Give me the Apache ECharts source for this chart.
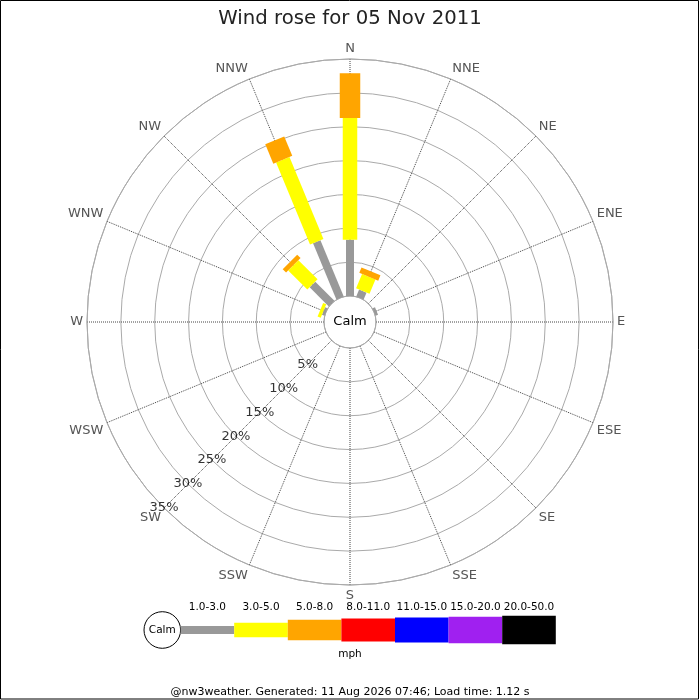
<!DOCTYPE html>
<html>
<head>
<meta charset="utf-8">
<title>Wind rose</title>
<script src="https://cdn.jsdelivr.net/npm/echarts@6/dist/echarts.min.js"></script>
<style>
  html, body { margin: 0; padding: 0; background: #fff; }
  #chart { width: 700px; height: 700px; }
</style>
</head>
<body>
<div id="chart"></div>
<script>
"use strict";
// compass points, clockwise from north
var directions = ["N", "NNE", "NE", "ENE", "E", "ESE", "SE", "SSE",
                  "S", "SSW", "SW", "WSW", "W", "WNW", "NW", "NNW"];
var speedBands = ["1.0-3.0", "3.0-5.0", "5.0-8.0", "8.0-11.0", "11.0-15.0", "15.0-20.0", "20.0-50.0"];
var speedUnit = "mph";
var radiusTicks = [5, 10, 15, 20, 25, 30, 35];

// % of time per direction for each speed band
var band1 = [8.3, 1.1, 0, 0.4, 0, 0, 0, 0, 0, 0, 0, 0, 0, 0.4, 4.0, 9.0];
var band2 = [18.0, 2.3, 0, 0, 0, 0, 0, 0, 0, 0, 0, 0, 0, 0.5, 4.0, 13.1];
var band3 = [6.6, 0.85, 0, 0, 0, 0, 0, 0, 0, 0, 0, 0, 0, 0, 0.7, 3.1];
var band4 = [0, 0, 0, 0, 0, 0, 0, 0, 0, 0, 0, 0, 0, 0, 0, 0];
var band5 = [0, 0, 0, 0, 0, 0, 0, 0, 0, 0, 0, 0, 0, 0, 0, 0];
var band6 = [0, 0, 0, 0, 0, 0, 0, 0, 0, 0, 0, 0, 0, 0, 0, 0];
var band7 = [0, 0, 0, 0, 0, 0, 0, 0, 0, 0, 0, 0, 0, 0, 0, 0];
var bands = [band1, band2, band3, band4, band5, band6, band7];

var bandColors = ["#999999", "#ffff00", "#ffa500", "#ff0000", "#0000ff", "#a020f0", "#000000"];
var bandWidths = [8, 14.5, 20.5, 23, 25, 26.5, 28.5];

var FONT = "DejaVu Sans";
var CX = 350, CY = 322;

// stacked segments: [start, end, angle, band]
var segments = [];
for (var d = 0; d < directions.length; d++) {
    var cum = 0;
    for (var b = 0; b < bands.length; b++) {
        var v = bands[b][d];
        if (v > 0) {
            segments.push([cum, cum + v, d * 22.5, b]);
            cum += v;
        }
    }
}

function renderBar(params, api) {
    var p0 = api.coord([api.value(0), api.value(2)]);
    var p1 = api.coord([api.value(1), api.value(2)]);
    var b = api.value(3);
    var dx = p1[0] - p0[0], dy = p1[1] - p0[1];
    var len = Math.sqrt(dx * dx + dy * dy) || 1;
    var h = bandWidths[b] / 2;
    var nx = -dy / len * h, ny = dx / len * h;
    return {
        type: "polygon",
        shape: { points: [
            [p0[0] + nx, p0[1] + ny], [p1[0] + nx, p1[1] + ny],
            [p1[0] - nx, p1[1] - ny], [p0[0] - nx, p0[1] - ny]
        ] },
        style: { fill: bandColors[b] }
    };
}

var labelData = radiusTicks.map(function (t) { return [t, 225]; });

// legend strip under the rose
var graphics = [
    { type: "rect", shape: { x: 0.5, y: 0.5, width: 698, height: 698.5 },
      style: { fill: null, stroke: "#000", lineWidth: 1 }, silent: true },
    { type: "text", x: CX, y: CY, z: 10,
      style: { text: "Calm", font: "13px '" + FONT + "'", fill: "#000", align: "center", verticalAlign: "middle" } },
    { type: "circle", shape: { cx: 162.3, cy: 630, r: 18.3 },
      style: { fill: "#fff", stroke: "#000", lineWidth: 1 } },
    { type: "text", x: 162.3, y: 630,
      style: { text: "Calm", font: "10.5px '" + FONT + "'", fill: "#000", align: "center", verticalAlign: "middle" } },
    { type: "text", x: 350, y: 654,
      style: { text: speedUnit, font: "10.5px '" + FONT + "'", fill: "#000", align: "center", verticalAlign: "middle" } },
    { type: "text", x: 350, y: 692.5,
      style: { text: "@nw3weather. Generated: 11 Aug 2026 07:46; Load time: 1.12 s",
               font: "11px '" + FONT + "'", fill: "#000", align: "center", verticalAlign: "middle" } }
];
var legX = 180.6, legW = 53.6;
speedBands.forEach(function (name, i) {
    var x = legX + i * legW;
    graphics.push({ type: "rect", shape: { x: x, y: 630 - bandWidths[i] / 2, width: legW, height: bandWidths[i] },
                    style: { fill: bandColors[i] } });
    graphics.push({ type: "text", x: x + legW / 2, y: 607,
                    style: { text: name, font: "10.5px '" + FONT + "'", fill: "#000", align: "center", verticalAlign: "middle" } });
});

var myChart = echarts.init(document.getElementById("chart"));
myChart.setOption({
    animation: false,
    backgroundColor: "#fff",
    textStyle: { fontFamily: FONT },
    title: {
        text: "Wind rose for 05 Nov 2011",
        left: "center", top: 4,
        textStyle: { fontFamily: FONT, fontSize: 19.7, fontWeight: "normal", color: "#222" }
    },
    polar: { center: [CX, CY], radius: [26, 263] },
    angleAxis: {
        type: "value", min: 0, max: 360, interval: 22.5,
        startAngle: 90, clockwise: true,
        axisLine: { show: true, lineStyle: { color: "#aaa", width: 1 } },
        axisTick: { show: false },
        axisLabel: {
            margin: 4, color: "#555", fontSize: 13, fontFamily: FONT,
            formatter: function (v) { return directions[Math.round(v / 22.5) % 16]; }
        },
        splitLine: { show: true, lineStyle: { color: "#444", width: 1, type: "dotted" } }
    },
    radiusAxis: {
        type: "value", min: 0, max: 35, interval: 5,
        axisLine: { show: false },
        axisTick: { show: false },
        axisLabel: { show: false },
        splitLine: { show: true, lineStyle: { color: "#aaa", width: 1, type: "solid" } }
    },
    series: [
        {
            type: "custom", coordinateSystem: "polar",
            renderItem: renderBar,
            encode: { radius: [0, 1], angle: 2 },
            data: segments, z: 3
        },
        {
            type: "scatter", coordinateSystem: "polar",
            symbolSize: 1, itemStyle: { color: "rgba(0,0,0,0)" },
            label: {
                show: true, position: "inside", color: "#000", fontSize: 13, fontFamily: FONT,
                formatter: function (p) { return p.value[0] + "%"; }
            },
            data: labelData, z: 4
        }
    ],
    graphic: graphics
});
</script>
</body>
</html>
